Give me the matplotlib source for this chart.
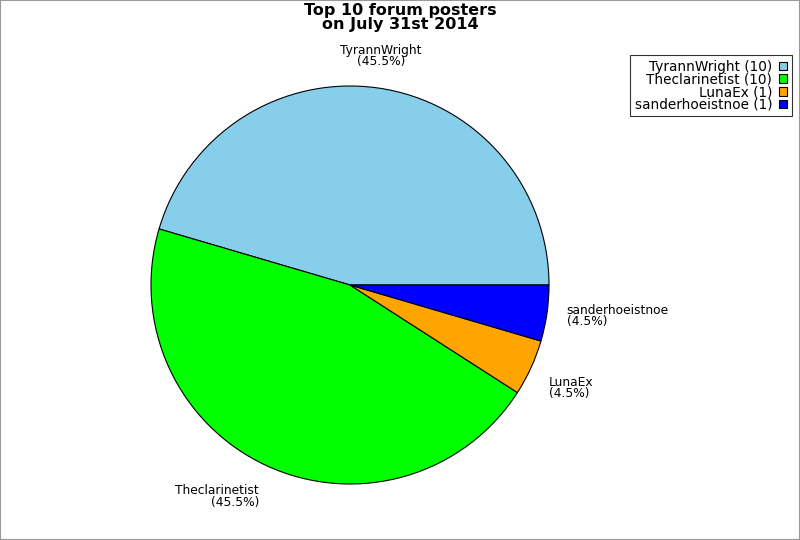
import numpy as np
import matplotlib.pyplot as plt
from matplotlib.patches import Rectangle, Patch

names = ['TyrannWright', 'Theclarinetist', 'LunaEx', 'sanderhoeistnoe']
posts = [10, 10, 1, 1]
colors = ['#87ceeb', '#00ff00', '#ffa500', '#0000ff']

fig = plt.figure(figsize=(8, 5.4), dpi=100)
fig.patches.append(Rectangle((0, 0), 1, 1, transform=fig.transFigure,
                             fill=False, edgecolor='#999999', linewidth=1.5))

# pie centre at (350,285) px, radius ~199 px
ax = fig.add_axes([151/800, 56/540, 398/800, 398/540])
wedges, _ = ax.pie(posts, colors=colors, startangle=0, counterclock=True,
                   wedgeprops=dict(edgecolor='black', linewidth=0.8))
ax.set_xlim(-1, 1)
ax.set_ylim(-1, 1)
ax.set_aspect('equal')
ax.axis('off')

total = sum(posts)
align = [('center', 'bottom'), ('right', 'top'), ('left', 'top'), ('left', 'center')]
for w, n, p, (ha, va) in zip(wedges, names, posts, align):
    mid = np.deg2rad((w.theta1 + w.theta2) / 2)
    x, y = 1.1 * np.cos(mid), 1.1 * np.sin(mid)
    lbl = '%s\n(%.1f%%)' % (n, 100.0 * p / total)
    ax.text(x, y, lbl, ha=ha, va=va, fontsize=8.8, linespacing=0.85,
            multialignment=ha)

fig.text(0.5, 0.995, 'Top 10 forum posters\non July 31st 2014', ha='center', va='top',
         fontsize=11.5, fontweight='bold', linespacing=0.9)

handles = [Patch(facecolor=c, edgecolor='black', linewidth=0.8) for c in colors]
labels = ['%s (%d)' % (n, p) for n, p in zip(names, posts)]
leg = fig.legend(handles, labels, loc='upper right', bbox_to_anchor=(792/800, 1 - 55/540),
                 markerfirst=False, fontsize=9.8, frameon=True, fancybox=False,
                 handlelength=0.6, handleheight=0.6, handletextpad=0.5,
                 labelspacing=-0.1, borderpad=0.35, borderaxespad=0)
leg.get_frame().set_edgecolor('black')
leg.get_frame().set_linewidth(0.8)
for t in leg.get_texts():
    t.set_ha('right')

fig.savefig('out.png', dpi=100)
